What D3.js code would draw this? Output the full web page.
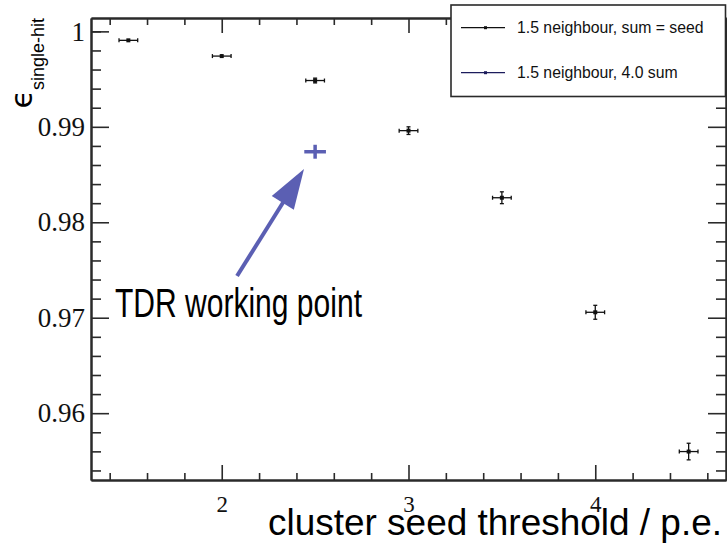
<!DOCTYPE html>
<html>
<head>
<meta charset="utf-8">
<script src="https://cdn.jsdelivr.net/npm/d3@7/dist/d3.min.js"></script>
<style>
  html, body { margin: 0; padding: 0; background: #fff; }
  svg { display: block; }
</style>
</head>
<body>
<svg id="chart" width="727" height="546"></svg>
<script>
// Seed-threshold scan, "1.5 neighbour, sum = seed"
const seedThreshold = [1.5, 2.0, 2.5, 3.0, 3.5, 4.0, 4.5];
const efficiency    = [0.99906, 0.99741, 0.99485, 0.98960, 0.98257, 0.97057, 0.95598];
const effError      = [0.00010, 0.00020, 0.00025, 0.00040, 0.00062, 0.00073, 0.00087];
const xHalfWidth    = 0.05;

// Working point, "1.5 neighbour, 4.0 sum"
const wpThreshold = [2.5];
const wpEfficiency = [0.98739];
const wpError = [0.00073];
const wpHalfWidth = 0.058;

// Axis ticks
const xMajorTicks = [2, 3, 4];
const xMinorTicks = [1.4, 1.6, 1.8, 2.2, 2.4, 2.6, 2.8, 3.2, 3.4, 3.6, 3.8, 4.2, 4.4, 4.6];
const yMajorTicks = [0.96, 0.97, 0.98, 0.99, 1.0];
const yMinorTicks = [0.954, 0.956, 0.958, 0.962, 0.964, 0.966, 0.968, 0.972, 0.974, 0.976, 0.978,
                     0.982, 0.984, 0.986, 0.988, 0.992, 0.994, 0.996, 0.998, 1.000];
const yTickLabels = ["0.96", "0.97", "0.98", "0.99", "1"];

const legendLabels = ["1.5 neighbour, sum = seed", "1.5 neighbour, 4.0 sum"];
const xTitle = "cluster seed threshold / p.e.";
const noteText = "TDR working point";

const svg = d3.select("#chart");
const frame = { left: 91, right: 726, top: 18, bottom: 480 };

const x = d3.scaleLinear().domain([1.3, 4.7]).range([frame.left, frame.right]);
const y = d3.scaleLinear().domain([0.953, 1.0014]).range([frame.bottom, frame.top]);

const axisColor = "#2a2a2a";
const accent = "#5b5fb3";

function styleAxis(g) {
  g.selectAll("path, line").attr("stroke", axisColor);
  g.select(".domain").attr("stroke-width", 2);
  g.selectAll(".tick line").attr("stroke-width", 1.6);
}

// Bottom axis: major with labels, minor without
const gBottomMinor = svg.append("g").attr("transform", `translate(0,${frame.bottom})`)
  .call(d3.axisBottom(x).tickValues(xMinorTicks).tickSize(-7).tickSizeOuter(0).tickFormat(""));
const gBottom = svg.append("g").attr("transform", `translate(0,${frame.bottom})`)
  .call(d3.axisBottom(x).tickValues(xMajorTicks).tickSize(-15).tickSizeOuter(0)
    .tickFormat(d3.format("d")).tickPadding(16));
gBottom.selectAll("text")
  .attr("font-family", "'Liberation Serif', 'Times New Roman', serif")
  .attr("font-size", 23).attr("fill", "#111");

// Top axis (ticks only)
const gTopMinor = svg.append("g").attr("transform", `translate(0,${frame.top})`)
  .call(d3.axisTop(x).tickValues(xMinorTicks).tickSize(-7).tickSizeOuter(0).tickFormat(""));
const gTop = svg.append("g").attr("transform", `translate(0,${frame.top})`)
  .call(d3.axisTop(x).tickValues(xMajorTicks).tickSize(-15).tickSizeOuter(0).tickFormat(""));

// Left axis
const gLeftMinor = svg.append("g").attr("transform", `translate(${frame.left},0)`)
  .call(d3.axisLeft(y).tickValues(yMinorTicks).tickSize(-10).tickSizeOuter(0).tickFormat(""));
const gLeft = svg.append("g").attr("transform", `translate(${frame.left},0)`)
  .call(d3.axisLeft(y).tickValues(yMajorTicks).tickSize(-18).tickSizeOuter(0)
    .tickFormat((d, i) => yTickLabels[i]).tickPadding(6));
gLeft.selectAll("text")
  .attr("font-family", "'Liberation Serif', 'Times New Roman', serif")
  .attr("font-size", 27).attr("fill", "#111");

// Right axis (ticks only)
const gRightMinor = svg.append("g").attr("transform", `translate(${frame.right},0)`)
  .call(d3.axisRight(y).tickValues(yMinorTicks).tickSize(-10).tickSizeOuter(0).tickFormat(""));
const gRight = svg.append("g").attr("transform", `translate(${frame.right},0)`)
  .call(d3.axisRight(y).tickValues(yMajorTicks).tickSize(-18).tickSizeOuter(0).tickFormat(""));

[gBottomMinor, gBottom, gTopMinor, gTop, gLeftMinor, gLeft, gRightMinor, gRight].forEach(styleAxis);

// Error-bar points
function drawPoints(xs, ys, errs, hw, color, width, capped, marker) {
  const g = svg.append("g").attr("stroke", color).attr("stroke-width", width);
  xs.forEach((xv, i) => {
    const cx = x(xv), cy = y(ys[i]);
    const y0 = y(ys[i] - errs[i]), y1 = y(ys[i] + errs[i]);
    const x0 = x(xv - hw), x1 = x(xv + hw);
    g.append("line").attr("x1", x0).attr("x2", x1).attr("y1", cy).attr("y2", cy);
    g.append("line").attr("x1", cx).attr("x2", cx).attr("y1", y0).attr("y2", y1);
    if (capped) {
      g.append("line").attr("x1", x0).attr("x2", x0).attr("y1", cy - 2).attr("y2", cy + 2);
      g.append("line").attr("x1", x1).attr("x2", x1).attr("y1", cy - 2).attr("y2", cy + 2);
      if (y0 - y1 > 4) {
        g.append("line").attr("x1", cx - 2).attr("x2", cx + 2).attr("y1", y0).attr("y2", y0);
        g.append("line").attr("x1", cx - 2).attr("x2", cx + 2).attr("y1", y1).attr("y2", y1);
      }
    }
    if (marker) {
      svg.append("rect").attr("x", cx - 2).attr("y", cy - 2).attr("width", 4).attr("height", 4)
        .attr("fill", color);
    }
  });
}
drawPoints(seedThreshold, efficiency, effError, xHalfWidth, "#111", 1.3, true, true);
drawPoints(wpThreshold, wpEfficiency, wpError, wpHalfWidth, accent, 3.5, false, false);

// Annotation: arrow to the working point
const arrowTail = [2.082, 0.97437];
const arrowTip = [2.4405, 0.98558];
const tx = x(arrowTail[0]), ty = y(arrowTail[1]);
const hx = x(arrowTip[0]), hy = y(arrowTip[1]);
const dx = hx - tx, dy = hy - ty, len = Math.hypot(dx, dy);
const ux = dx / len, uy = dy / len;
const headLen = 40, headHalf = 13;
const bx = hx - ux * headLen, by = hy - uy * headLen;
svg.append("line").attr("x1", tx).attr("y1", ty).attr("x2", bx + ux * 2).attr("y2", by + uy * 2)
  .attr("stroke", accent).attr("stroke-width", 4);
svg.append("path")
  .attr("d", `M${hx},${hy}L${bx - uy * headHalf},${by + ux * headHalf}L${bx + uy * headHalf},${by - ux * headHalf}Z`)
  .attr("fill", accent);

const notePos = [1.4285, 0.97011];
svg.append("text").attr("x", x(notePos[0])).attr("y", y(notePos[1]))
  .attr("font-family", "'Liberation Sans', Arial, sans-serif").attr("font-size", 40)
  .attr("textLength", 247).attr("lengthAdjust", "spacingAndGlyphs")
  .attr("fill", "#000").text(noteText);

// Axis titles
svg.append("text").attr("x", 722).attr("y", 535).attr("text-anchor", "end")
  .attr("font-family", "'Liberation Sans', Arial, sans-serif").attr("font-size", 36)
  .attr("textLength", 454).attr("lengthAdjust", "spacingAndGlyphs")
  .attr("fill", "#000").text(xTitle);

const yTitle = svg.append("text").attr("transform", "translate(32,18) rotate(-90)")
  .attr("text-anchor", "end").attr("font-family", "'DejaVu Sans', sans-serif").attr("fill", "#000");
yTitle.append("tspan").attr("font-size", 30).text("ϵ");
yTitle.append("tspan").attr("font-family", "'Liberation Sans', Arial, sans-serif")
  .attr("font-size", 18).attr("dy", 12).text("single-hit");

// Legend
const legend = svg.append("g");
legend.append("rect").attr("x", 451).attr("y", 5).attr("width", 274.5).attr("height", 91.5)
  .attr("fill", "#fff").attr("stroke", axisColor).attr("stroke-width", 1.6);
const legendColors = ["#111", "#1c1c5c"];
const legendRows = [27.7, 72.7];
legendLabels.forEach((lab, i) => {
  const ly = legendRows[i];
  legend.append("line").attr("x1", 461).attr("x2", 505).attr("y1", ly).attr("y2", ly)
    .attr("stroke", legendColors[i]).attr("stroke-width", 1.2);
  legend.append("rect").attr("x", 484).attr("y", ly - 1.5).attr("width", 3).attr("height", 3)
    .attr("fill", legendColors[i]);
  legend.append("text").attr("x", 517).attr("y", ly).attr("dy", "0.36em")
    .attr("font-family", "'Liberation Sans', Arial, sans-serif").attr("font-size", 15.8)
    .attr("fill", "#111").text(lab);
});
</script>
</body>
</html>
